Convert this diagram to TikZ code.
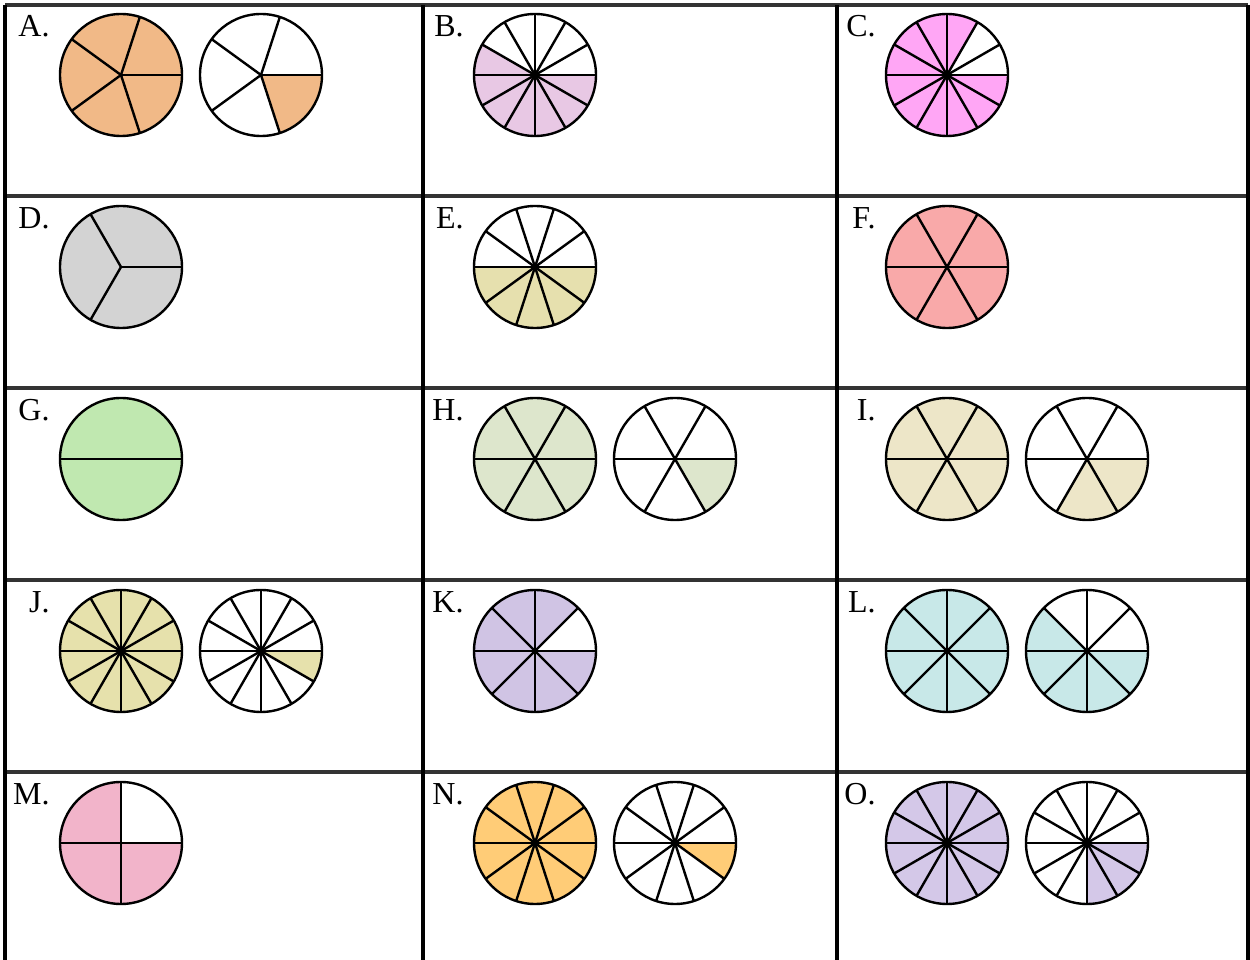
\documentclass[tikz,border=0pt]{standalone}
\usepackage{fontspec}
\setmainfont{Liberation Serif}
\usetikzlibrary{calc}

\definecolor{pieA}{RGB}{241,185,135}
\definecolor{pieB}{RGB}{232,200,228}
\definecolor{pieC}{RGB}{255,166,245}
\definecolor{pieD}{RGB}{211,211,211}
\definecolor{pieE}{RGB}{230,224,174}
\definecolor{pieF}{RGB}{249,169,169}
\definecolor{pieG}{RGB}{192,232,176}
\definecolor{pieH}{RGB}{221,230,204}
\definecolor{pieI}{RGB}{237,230,200}
\definecolor{pieJ}{RGB}{230,225,172}
\definecolor{pieK}{RGB}{208,196,228}
\definecolor{pieL}{RGB}{200,232,232}
\definecolor{pieM}{RGB}{242,180,202}
\definecolor{pieN}{RGB}{255,204,119}
\definecolor{pieO}{RGB}{212,200,232}

% centre, parts, shaded parts, colour
\newcommand{\fracpie}[4]{%
  \pgfmathsetmacro\startang{360*(1-#3/#2)}
  \fill[#4] (#1) -- ++(\startang:61) arc[start angle=\startang, end angle=360, radius=61] -- cycle;
  \draw[pieline] (#1) circle[radius=61];
  \foreach \k in {1,...,#2} \draw[pieline] (#1) -- ++({360*\k/#2}:61);
}

\begin{document}
\begin{tikzpicture}[x=0.5pt, y=0.5pt, pieline/.style={line width=1.2pt}, lbl/.style={font=\fontsize{16}{18}\selectfont, anchor=base east, inner sep=0pt}, hrule/.style={line width=1.8pt, black!80}, vrule/.style={line width=1.8pt}]
\useasboundingbox (0,0) rectangle (1250,960);
% table rules
\foreach \y in {955,764,572,380,188} \draw[hrule] (5,\y) -- (1248,\y);
\foreach \x in {5,423,837,1248} \draw[vrule] (\x,955) -- (\x,0);
% pie centres
\coordinate (A1) at (121,885); \coordinate (A2) at (261,885);
\coordinate (B1) at (535,885); \coordinate (C1) at (947,885);
\coordinate (D1) at (121,693); \coordinate (E1) at (535,693); \coordinate (F1) at (947,693);
\coordinate (G1) at (121,501); \coordinate (H1) at (535,501); \coordinate (H2) at (675,501);
\coordinate (I1) at (947,501); \coordinate (I2) at (1087,501);
\coordinate (J1) at (121,309); \coordinate (J2) at (261,309); \coordinate (K1) at (535,309);
\coordinate (L1) at (947,309); \coordinate (L2) at (1087,309);
\coordinate (M1) at (121,117); \coordinate (N1) at (535,117); \coordinate (N2) at (675,117);
\coordinate (O1) at (947,117); \coordinate (O2) at (1087,117);
% labels
\foreach \c in {A,...,O} \node[lbl] (lab\c) at ($(\c1)+(-71,38)$) {\c.};
% pies
\fracpie{A1}{5}{5}{pieA} \fracpie{A2}{5}{1}{pieA}
\fracpie{B1}{12}{7}{pieB}
\fracpie{C1}{12}{10}{pieC}
\fracpie{D1}{3}{3}{pieD}
\fracpie{E1}{10}{5}{pieE}
\fracpie{F1}{6}{6}{pieF}
\fracpie{G1}{2}{2}{pieG}
\fracpie{H1}{6}{6}{pieH} \fracpie{H2}{6}{1}{pieH}
\fracpie{I1}{6}{6}{pieI} \fracpie{I2}{6}{2}{pieI}
\fracpie{J1}{12}{12}{pieJ} \fracpie{J2}{12}{1}{pieJ}
\fracpie{K1}{8}{7}{pieK}
\fracpie{L1}{8}{8}{pieL} \fracpie{L2}{8}{5}{pieL}
\fracpie{M1}{4}{3}{pieM}
\fracpie{N1}{10}{10}{pieN} \fracpie{N2}{10}{1}{pieN}
\fracpie{O1}{12}{12}{pieO} \fracpie{O2}{12}{3}{pieO}
\end{tikzpicture}
\end{document}
